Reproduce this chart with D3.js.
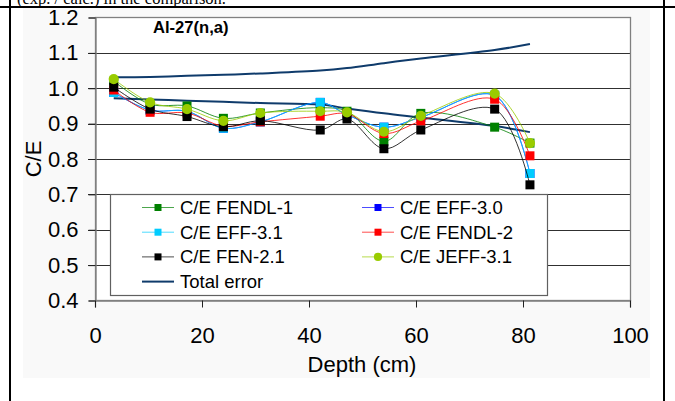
<!DOCTYPE html>
<html><head><meta charset="utf-8">
<script src="https://cdn.jsdelivr.net/npm/d3@7"></script>
<style>html,body{margin:0;padding:0;background:#fff;overflow:hidden}</style>
</head><body>
<svg id="c" width="675" height="401"></svg>
<script>
const depth   = [3.5, 10.3, 17.2, 24.0, 30.9, 42.1, 47.1, 54.0, 60.9, 74.7, 81.3];
const fendl1  = [1.020, 0.955, 0.950, 0.915, 0.930, 0.945, 0.935, 0.850, 0.929, 0.890, 0.845];
const eff30   = [0.988, 0.938, 0.935, 0.887, 0.905, 0.960, 0.925, 0.890, 0.918, 0.980, 0.759];
const eff31   = [0.988, 0.938, 0.935, 0.887, 0.905, 0.960, 0.925, 0.890, 0.918, 0.980, 0.759];
const fendl2  = [0.995, 0.932, 0.930, 0.893, 0.905, 0.921, 0.928, 0.872, 0.907, 0.969, 0.809];
const fen21   = [1.003, 0.941, 0.920, 0.891, 0.908, 0.882, 0.913, 0.829, 0.882, 0.941, 0.727];
const jeff31  = [1.026, 0.960, 0.941, 0.908, 0.930, 0.935, 0.932, 0.877, 0.922, 0.985, 0.845];
const errUpper = [1.031, 1.032, 1.035, 1.038, 1.042, 1.050, 1.057, 1.071, 1.084, 1.108, 1.125];
const errLower = [0.972, 0.968, 0.965, 0.962, 0.958, 0.954, 0.943, 0.929, 0.917, 0.893, 0.876];
const xTicks = [0, 20, 40, 60, 80, 100];
const yTicks = [0.4, 0.5, 0.6, 0.7, 0.8, 0.9, 1.0, 1.1, 1.2];
const seriesNames = ["C/E FENDL-1", "C/E EFF-3.0", "C/E EFF-3.1", "C/E FENDL-2", "C/E FEN-2.1", "C/E JEFF-3.1"];
const seriesValues = [fendl1, eff30, eff31, fendl2, fen21, jeff31];
const seriesColors = ["#008000", "#0000ff", "#00ccff", "#ff0000", "#000000", "#99cc00"];
const seriesShapes = ["square", "square", "square", "square", "square", "circle"];
const errName = "Total error";
const errColor = "#0f3b6b";

const svg = d3.select("#c");
const L = 95, R = 630, T = 17.5, B = 300.5;
const x = d3.scaleLinear().domain([0, 100]).range([L, R]);
const y = d3.scaleLinear().domain([0.4, 1.2]).range([B, T]);
const font = "'Liberation Sans', Arial, sans-serif";

// outer chart area
svg.append("rect").attr("x", 23).attr("y", 8).attr("width", 627).attr("height", 370).attr("fill", "#f9f9f9");
// table borders & cut text
svg.append("text").attr("x", 17).attr("y", 3.5).attr("font-family", "'Liberation Serif', 'Times New Roman', serif")
  .attr("font-size", 16.5).attr("fill", "#000").text("(exp. / calc.) in the comparison.");
svg.append("rect").attr("x", 0).attr("y", 6).attr("width", 675).attr("height", 2).attr("fill", "#000");
svg.append("rect").attr("x", 9).attr("y", 0).attr("width", 2).attr("height", 401).attr("fill", "#000");
svg.append("rect").attr("x", 663).attr("y", 0).attr("width", 2).attr("height", 401).attr("fill", "#000");

// plot area
svg.append("rect").attr("x", L).attr("y", T).attr("width", R - L).attr("height", B - T).attr("fill", "#fff");

// gridlines
svg.append("g").selectAll("line").data(yTicks.filter(v => v > 0.4 && v < 1.2)).join("line")
  .attr("x1", L - 7).attr("x2", R)
  .attr("y1", d => Math.round(y(d)) + 0.5).attr("y2", d => Math.round(y(d)) + 0.5)
  .attr("stroke", "#303030").attr("stroke-width", 1);

// plot border
svg.append("rect").attr("x", L + 0.5).attr("y", T).attr("width", R - L).attr("height", B - T)
  .attr("fill", "none").attr("stroke", "#808080").attr("stroke-width", 1.3);

// axes
const yAxis = d3.axisLeft(y).tickValues(yTicks).tickFormat(d3.format(".1f")).tickSize(7).tickPadding(10);
const gy = svg.append("g").attr("transform", `translate(${L + 0.5},0)`).call(yAxis);
const xAxis = d3.axisBottom(x).tickValues(xTicks).tickFormat(d3.format("d")).tickSize(7).tickPadding(20);
const gx = svg.append("g").attr("transform", `translate(0,${B})`).call(xAxis);
[gx, gy].forEach(g => {
  g.select(".domain").attr("stroke", "#808080").attr("stroke-width", 1.3);
  g.selectAll(".tick line").attr("stroke", "#202020");
  g.selectAll("text").attr("font-family", font).attr("font-size", 22).attr("fill", "#000");
});

// axis titles
svg.append("text").attr("transform", "translate(41,159) rotate(-90)").attr("text-anchor", "middle")
  .attr("font-family", font).attr("font-size", 22).attr("fill", "#000").text("C/E");
svg.append("text").attr("x", 362).attr("y", 371.5).attr("text-anchor", "middle")
  .attr("font-family", font).attr("font-size", 22).attr("fill", "#000").text("Depth (cm)");

// chart title
svg.append("text").attr("x", 153).attr("y", 33).attr("font-family", font).attr("font-weight", "bold")
  .attr("font-size", 16.6).attr("fill", "#000").text("Al-27(n,a)");

// total error lines
const errLine = d3.line().x(d => x(d[0])).y(d => y(d[1])).curve(d3.curveCatmullRom.alpha(0.5));
[errUpper, errLower].forEach(arr => {
  svg.append("path").datum(depth.map((d, i) => [d, arr[i]])).attr("d", errLine)
    .attr("fill", "none").attr("stroke", errColor).attr("stroke-width", 2);
});

// series
const smooth = d3.line().x(d => x(d[0])).y(d => y(d[1])).curve(d3.curveCatmullRom.alpha(0.5));
function marker(g, shape, cx, cy, color, size) {
  if (shape === "circle") {
    g.append("circle").attr("cx", cx).attr("cy", cy).attr("r", size / 2 + 0.6).attr("fill", color);
  } else {
    g.append("rect").attr("x", cx - size / 2).attr("y", cy - size / 2).attr("width", size).attr("height", size).attr("fill", color);
  }
}
seriesValues.forEach((vals, si) => {
  const g = svg.append("g");
  const pts = depth.map((d, i) => [d, vals[i]]);
  g.append("path").datum(pts).attr("d", smooth).attr("fill", "none")
    .attr("stroke", seriesColors[si]).attr("stroke-width", 1).attr("stroke-opacity", 0.8);
  pts.forEach(p => marker(g, seriesShapes[si], x(p[0]), y(p[1]), seriesColors[si], 9));
});

// legend
const lg = svg.append("g");
lg.append("rect").attr("x", 110.5).attr("y", 194.5).attr("width", 437).attr("height", 101)
  .attr("fill", "#fff").attr("stroke", "#606060").attr("stroke-width", 1.2);
const legendItems = seriesNames.map((n, i) => ({name: n, color: seriesColors[i], shape: seriesShapes[i], line: false}))
  .concat([{name: errName, color: errColor, shape: null, line: true}]);
const colX = [142, 362], rowY0 = 207.5, rowH = 24.7;
legendItems.forEach((it, i) => {
  const col = i < 6 ? i % 2 : 0;
  const row = i < 6 ? Math.floor(i / 2) : 3;
  const lx = colX[col], ly = rowY0 + row * rowH;
  lg.append("line").attr("x1", lx).attr("x2", lx + 32).attr("y1", ly).attr("y2", ly)
    .attr("stroke", it.color).attr("stroke-width", it.line ? 2 : 1).attr("stroke-opacity", it.line ? 1 : 0.7);
  if (it.shape) marker(lg, it.shape, lx + 16, ly, it.color, 7);
  lg.append("text").attr("x", lx + 38).attr("y", ly + 6.5).attr("font-family", font).attr("font-size", 18.5)
    .attr("fill", "#000").text(it.name);
});
</script>
</body></html>
